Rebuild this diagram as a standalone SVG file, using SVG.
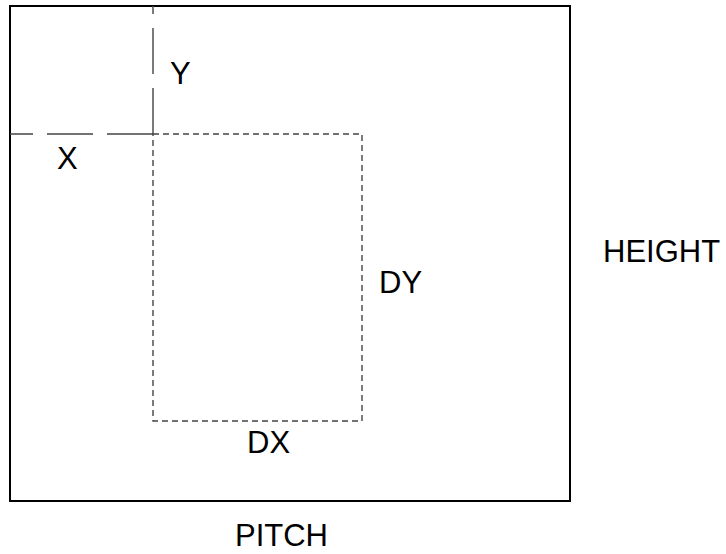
<svg xmlns="http://www.w3.org/2000/svg" width="726" height="554" viewBox="0 0 726 554">
<style>
text{font-family:"Liberation Sans",Arial,sans-serif;font-size:31px;fill:#000}
.frame{fill:none;stroke:#000;stroke-width:2}
.long{fill:none;stroke:#444;stroke-width:1.4;stroke-dasharray:46 14}
.short{fill:none;stroke:#444;stroke-width:1.4;stroke-dasharray:6 4}
</style>
<rect width="726" height="554" fill="#fff"/>
<g id="frame"><rect class="frame" x="10" y="6" width="560" height="495"/></g>
<g id="connectors">
<line class="long" x1="153" y1="134" x2="10" y2="134"/>
<line class="long" x1="153" y1="134" x2="153" y2="6"/>
<path class="short" d="M153 134 H362 V421 H153 Z"/>
</g>
<g id="labels">
<text x="170" y="84">Y</text>
<text x="57" y="169">X</text>
<text x="379" y="293">DY</text>
<text x="247" y="453">DX</text>
<text x="603" y="262">HEIGHT</text>
<text x="235" y="546">PITCH</text>
</g>
</svg>
